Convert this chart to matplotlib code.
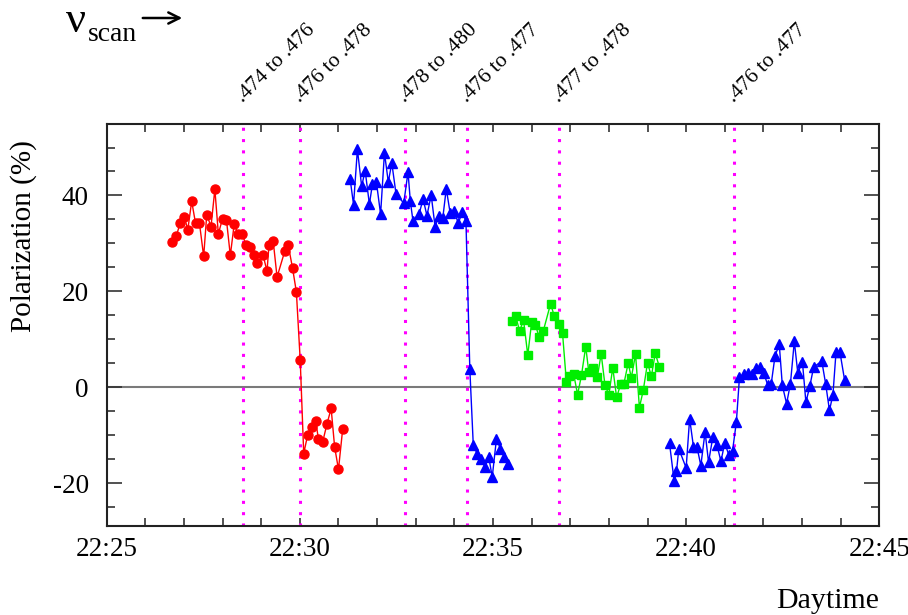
import matplotlib
matplotlib.use("Agg")
import matplotlib.pyplot as plt
from matplotlib.ticker import MultipleLocator, FuncFormatter

plt.rcParams["font.family"] = "serif"
plt.rcParams["font.serif"] = ["Liberation Serif", "DejaVu Serif"]
plt.rcParams["mathtext.fontset"] = "stix"
plt.rcParams["axes.unicode_minus"] = False

# time in minutes after 22:00, polarization in %
red_t = [26.70, 26.80, 26.90, 27.01, 27.10, 27.20, 27.30, 27.40, 27.51, 27.59,
         27.70, 27.80, 27.89, 28.00, 28.10, 28.20, 28.30, 28.40, 28.51, 28.61,
         28.71, 28.81, 28.90, 29.05, 29.15, 29.20, 29.31, 29.41, 29.61, 29.70,
         29.81, 29.91, 30.01, 30.10, 30.20, 30.31, 30.41, 30.48, 30.59, 30.70,
         30.81, 30.90, 31.00, 31.11]
red_p = [30.3, 31.5, 34.2, 35.5, 32.9, 38.8, 34.2, 34.3, 27.3, 36.0,
         33.5, 41.3, 32.0, 35.2, 34.9, 27.5, 34.0, 32.0, 31.9, 29.6,
         29.3, 27.5, 26.0, 27.5, 24.2, 29.6, 30.5, 23.0, 28.4, 29.6,
         24.9, 19.9, 5.6, -13.8, -10.0, -8.3, -7.0, -10.7, -11.4, -7.7,
         -4.4, -12.4, -17.1, -8.6]

blue1_t = [31.30, 31.39, 31.49, 31.60, 31.69, 31.80, 31.88, 31.98, 32.09, 32.19,
           32.29, 32.38, 32.49, 32.69, 32.80, 32.86, 32.93, 33.09, 33.19, 33.29,
           33.40, 33.50, 33.60, 33.70, 33.79, 33.89, 33.99, 34.10, 34.21, 34.30,
           34.40, 34.49, 34.59, 34.69, 34.79, 34.89, 34.98, 35.09, 35.19, 35.29,
           35.40]
blue1_p = [43.5, 38.1, 49.6, 41.9, 45.2, 38.2, 42.4, 42.9, 36.1, 48.9,
           42.8, 46.8, 40.3, 38.4, 44.9, 38.8, 34.6, 36.2, 39.3, 35.8,
           40.1, 33.5, 35.7, 35.3, 41.4, 36.4, 36.7, 34.3, 36.5, 34.6,
           3.8, -12.1, -13.8, -14.9, -16.6, -14.5, -18.7, -10.7, -12.8, -14.5,
           -15.9]

green_t = [35.48, 35.59, 35.69, 35.79, 35.90, 36.00, 36.10, 36.20, 36.30, 36.49,
           36.59, 36.70, 36.80, 36.90, 36.98, 37.09, 37.19, 37.29, 37.40, 37.48,
           37.59, 37.70, 37.80, 37.90, 38.00, 38.10, 38.20, 38.31, 38.39, 38.50,
           38.58, 38.69, 38.79, 38.89, 39.00, 39.10, 39.20, 39.31]
green_p = [13.8, 14.8, 11.7, 14.1, 6.7, 13.6, 12.9, 10.4, 11.7, 17.4,
           14.8, 13.3, 11.3, 1.1, 2.3, 2.7, -1.5, 2.5, 8.5, 3.2,
           4.1, 2.1, 7.0, 0.4, -1.5, 4.1, -2.1, 0.8, 0.8, 5.1,
           2.0, 6.9, -4.2, -0.6, 5.1, 2.3, 7.1, 4.2]

blue2_t = [39.57, 39.69, 39.75, 39.81, 40.00, 40.09, 40.19, 40.28, 40.38, 40.49,
           40.58, 40.69, 40.80, 40.90, 41.00, 41.10, 41.20, 41.30, 41.38, 41.49,
           41.59, 41.70, 41.80, 41.92, 42.01, 42.11, 42.20, 42.30, 42.41, 42.49,
           42.60, 42.70, 42.80, 42.89, 43.01, 43.10, 43.20, 43.30, 43.51, 43.61,
           43.71, 43.80, 43.88, 43.98, 44.10]
blue2_p = [-11.7, -19.6, -17.5, -12.8, -16.8, -6.5, -12.4, -12.4, -16.3, -9.3,
           -15.6, -10.4, -12.1, -15.4, -11.6, -14.0, -13.3, -7.2, 2.1, 2.7,
           3.0, 2.7, 4.1, 4.2, 3.0, 0.5, 0.6, 6.5, 9.0, 0.4,
           -3.4, 0.8, 9.6, 3.0, 5.3, -3.1, 0.2, 4.2, 5.5, 0.8,
           -4.8, -1.5, 7.4, 7.4, 1.6]

# frequency scan steps
scan_t = [28.52, 30.00, 32.71, 34.32, 36.70, 41.23]
scan_labels = [".474 to .476", ".476 to .478", ".478 to .480",
               ".476 to .477", ".477 to .478", ".476 to .477"]

fig = plt.figure(figsize=(9.08, 6.15), dpi=100)
ax = fig.add_axes([106.7 / 908, 1 - 526 / 615, 772.6 / 908, 402 / 615])

ax.axhline(0, color="#7a7a7a", lw=1.5, zorder=1)
for t in scan_t:
    ax.axvline(t, color="#ff00ff", lw=2.2, linestyle=(0, (1, 2.7)),
               dash_capstyle="butt", zorder=2)

ax.plot(red_t, red_p, "-o", color="red", lw=1.0, ms=6.5, zorder=3)
ax.plot(blue1_t, blue1_p, "-^", color="blue", lw=1.0, ms=7, zorder=3)
ax.plot(green_t, green_p, "-s", color="#00ee00", lw=1.0, ms=6, zorder=3)
ax.plot(blue2_t, blue2_p, "-^", color="blue", lw=1.0, ms=7, zorder=3)

ax.set_xlim(25, 45)
ax.set_ylim(-28.9, 54.9)
ax.xaxis.set_major_locator(MultipleLocator(5))
ax.xaxis.set_minor_locator(MultipleLocator(1))
ax.yaxis.set_major_locator(MultipleLocator(20))
ax.yaxis.set_minor_locator(MultipleLocator(5))
ax.xaxis.set_major_formatter(FuncFormatter(lambda v, p: "22:%02d" % int(round(v))))

ax.tick_params(axis="x", which="both", direction="in", top=True, length=5.5,
               width=1.2, labelsize=19.5, pad=8, color="#333333")
ax.tick_params(axis="y", which="major", direction="in", right=True, length=11,
               width=1.2, labelsize=19.5, pad=13, color="#333333")
ax.tick_params(axis="y", which="minor", direction="in", right=True, length=5.5,
               width=1.2, color="#333333")
for s in ax.spines.values():
    s.set_linewidth(1.5)
    s.set_color("#222222")

for t, lab in zip(scan_t, scan_labels):
    ax.text(t, 1.052, lab, transform=ax.get_xaxis_transform(), rotation=45,
            rotation_mode="anchor", ha="left", va="baseline", fontsize=15.5)

fig.text(24 / 908, 1 - 236 / 615, "Polarization (%)", rotation=90,
         ha="center", va="center", fontsize=21)
fig.text(879 / 908, 1 - 608 / 615, "Daytime", ha="right", va="baseline",
         fontsize=21.5)

fig.text(66 / 908, 1 - 32 / 615, "ν", fontsize=32, va="baseline")
fig.text(88 / 908, 1 - 41 / 615, "scan", fontsize=20, va="baseline")
ax.annotate("", xy=(185, 597), xytext=(140, 597), xycoords="figure pixels",
            arrowprops=dict(arrowstyle="->", lw=1.8, color="black",
                            mutation_scale=20))

fig.savefig("out.png", dpi=100)
